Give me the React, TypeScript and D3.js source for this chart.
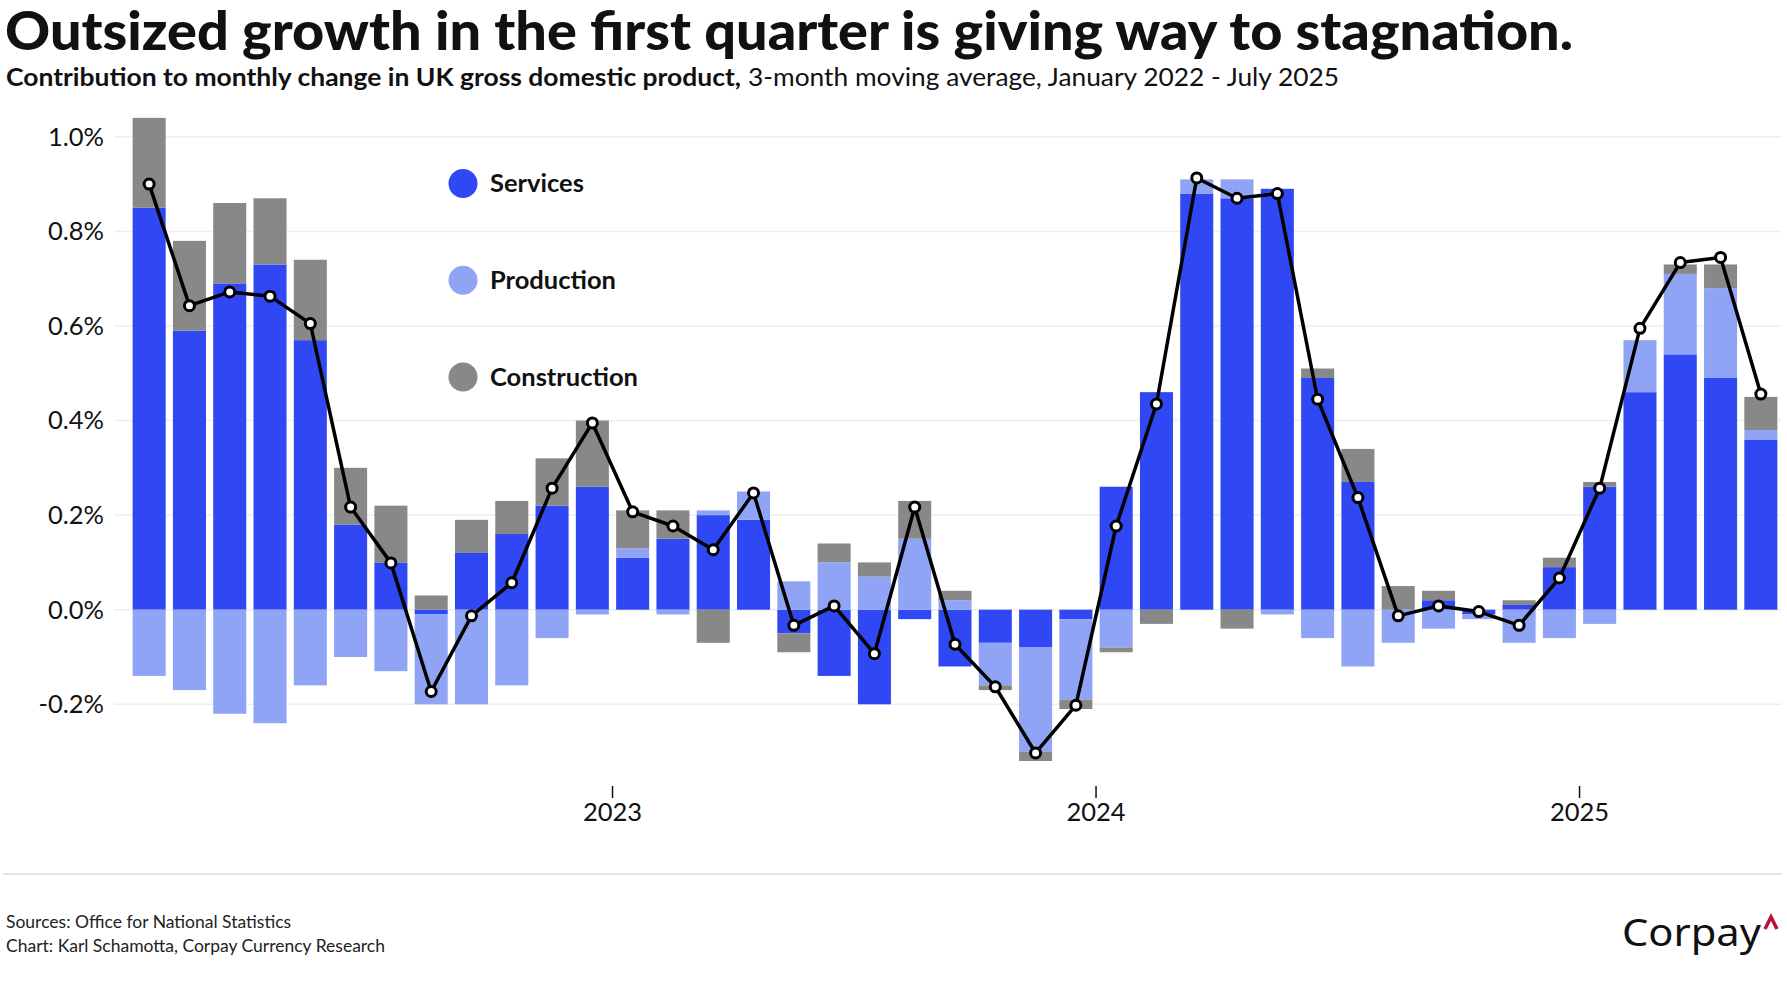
import * as d3 from 'd3';

const months = [
  '2022-01', '2022-02', '2022-03', '2022-04', '2022-05', '2022-06', '2022-07', '2022-08', '2022-09', '2022-10', '2022-11', '2022-12',
  '2023-01', '2023-02', '2023-03', '2023-04', '2023-05', '2023-06', '2023-07', '2023-08', '2023-09', '2023-10', '2023-11', '2023-12',
  '2024-01', '2024-02', '2024-03', '2024-04', '2024-05', '2024-06', '2024-07', '2024-08', '2024-09', '2024-10', '2024-11', '2024-12',
  '2025-01', '2025-02', '2025-03', '2025-04', '2025-05',
];

// contributions, percentage points
const services = [
  0.85, 0.59, 0.69, 0.73, 0.57, 0.18, 0.10, -0.01, 0.12, 0.16, 0.22, 0.26,
  0.11, 0.15, 0.20, 0.19, -0.05, -0.14, -0.20, -0.02, -0.12, -0.07, -0.08, -0.02,
  0.26, 0.46, 0.88, 0.87, 0.89, 0.49, 0.27, 0.00, 0.02, -0.01, 0.01, 0.09,
  0.26, 0.46, 0.54, 0.49, 0.36,
];
const production = [
  -0.14, -0.17, -0.22, -0.24, -0.16, -0.10, -0.13, -0.19, -0.20, -0.16, -0.06, -0.01,
  0.02, -0.01, 0.01, 0.06, 0.06, 0.10, 0.07, 0.15, 0.02, -0.09, -0.22, -0.17,
  -0.08, 0.00, 0.03, 0.04, -0.01, -0.06, -0.12, -0.07, -0.04, -0.01, -0.07, -0.06,
  -0.03, 0.11, 0.17, 0.19, 0.02,
];
const construction = [
  0.19, 0.19, 0.17, 0.14, 0.17, 0.12, 0.12, 0.03, 0.07, 0.07, 0.10, 0.14,
  0.08, 0.06, -0.07, 0.00, -0.04, 0.04, 0.03, 0.08, 0.02, -0.01, -0.02, -0.02,
  -0.01, -0.03, 0.00, -0.04, 0.00, 0.02, 0.07, 0.05, 0.02, 0.00, 0.01, 0.02,
  0.01, 0.00, 0.02, 0.05, 0.07,
];
const gdp = [
  0.90, 0.643, 0.672, 0.663, 0.605, 0.217, 0.099, -0.173, -0.013, 0.057, 0.257, 0.395,
  0.207, 0.177, 0.127, 0.247, -0.033, 0.008, -0.093, 0.217, -0.073, -0.163, -0.303, -0.202,
  0.177, 0.435, 0.913, 0.87, 0.88, 0.445, 0.237, -0.013, 0.008, -0.004, -0.033, 0.067,
  0.257, 0.595, 0.734, 0.745, 0.456,
];

const yTicks = [-0.2, 0, 0.2, 0.4, 0.6, 0.8, 1.0];
const yearTicks = ['2023-01', '2024-01', '2025-01'];
const seriesNames = ['Services', 'Production', 'Construction'];
const seriesColors = ['#3048F3', '#8FA4F5', '#888888'];

const FONT = 'Lato, "Noto Sans", sans-serif';

export default function App() {
  const W = 1787;
  const H = 1000;

  const x = d3.scaleBand().domain(months).range([129, 1781]).paddingInner(0.18).paddingOuter(0.09);
  const y = d3.scaleLinear().domain([0, 1]).range([609.7, 136.8]);

  const rows = months.map((m, i) => ({
    month: m,
    Services: services[i],
    Production: production[i],
    Construction: construction[i],
  }));
  const stacked = d3
    .stack<any>()
    .keys(seriesNames)
    .offset(d3.stackOffsetDiverging)(rows);

  const half = x.bandwidth() / 2;
  const gap = (x.step() - x.bandwidth()) / 2;
  const fmt = (t: number) => t.toFixed(1) + '%';

  const line = d3
    .line<number>()
    .x((_, i) => (x(months[i]) ?? 0) + half)
    .y((d) => y(d));

  return (
    <div style={{ position: 'absolute', left: 0, top: 0 }}>
      <svg width={W} height={H} style={{ display: 'block', background: '#fff' }} fontFamily={FONT}>
        {/* Title */}
        <text x={5} y={50} fontSize={53} fontWeight={900} fill="#111" textLength={1568} lengthAdjust="spacingAndGlyphs">
          Outsized growth in the first quarter is giving way to stagnation.
        </text>
        <text x={6} y={86} fontSize={24.5} fontWeight={700} fill="#111" textLength={735} lengthAdjust="spacingAndGlyphs">
          Contribution to monthly change in UK gross domestic product,
        </text>
        <text x={748} y={86} fontSize={24.5} fontWeight={400} fill="#111" textLength={591} lengthAdjust="spacingAndGlyphs">
          3-month moving average, January 2022 - July 2025
        </text>

        {/* Grid */}
        {yTicks.map((t) => (
          <g key={t}>
            <line x1={114} x2={1781} y1={y(t)} y2={y(t)} stroke="#eeeeee" strokeWidth={1.5} />
            <text x={104} y={y(t)} dy="0.35em" textAnchor="end" fontSize={25.5} fill="#111">
              {fmt(t)}
            </text>
          </g>
        ))}

        {/* Bars */}
        {stacked.map((s, si) => (
          <g key={s.key} fill={seriesColors[si]}>
            {s.map((d, i) => {
              const top = y(Math.max(d[0], d[1]));
              const bot = y(Math.min(d[0], d[1]));
              if (bot - top < 0.1) return null;
              return (
                <rect key={i} x={x(months[i])} y={top} width={x.bandwidth()} height={bot - top} />
              );
            })}
          </g>
        ))}

        {/* GDP line */}
        <path d={line(gdp) ?? ''} fill="none" stroke="#000" strokeWidth={3.5} strokeLinejoin="round" />
        {gdp.map((v, i) => (
          <circle key={i} cx={(x(months[i]) ?? 0) + half} cy={y(v)} r={5} fill="#fff" stroke="#000" strokeWidth={3} />
        ))}

        {/* X axis ticks */}
        {yearTicks.map((m) => {
          const tx = (x(m) ?? 0) - gap;
          return (
            <g key={m}>
              <line x1={tx} x2={tx} y1={786} y2={798} stroke="#111" strokeWidth={1.5} />
              <text x={tx} y={821} textAnchor="middle" fontSize={25.5} fill="#111">
                {m.slice(0, 4)}
              </text>
            </g>
          );
        })}

        {/* Legend */}
        {seriesNames.map((name, i) => (
          <g key={name} transform={`translate(463,${183.5 + i * 96.8})`}>
            <circle r={14.5} fill={seriesColors[i]} />
            <text x={27} dy="0.35em" fontSize={25.5} fontWeight={700} fill="#111">
              {name}
            </text>
          </g>
        ))}

        {/* Footer */}
        <line x1={3} x2={1782} y1={874} y2={874} stroke="#dddddd" strokeWidth={1.5} />
        <text x={6} y={928} fontSize={17.5} fill="#222">
          Sources: Office for National Statistics
        </text>
        <text x={6} y={952} fontSize={17.5} fill="#222">
          Chart: Karl Schamotta, Corpay Currency Research
        </text>
        <text x={1622} y={946} fontSize={39} fontWeight={400} fill="#111" fontFamily='"Noto Sans", sans-serif' textLength={139} lengthAdjust="spacingAndGlyphs">
          Corpay
        </text>
        <path d="M1765,929 L1771,917 L1777,929" fill="none" stroke="#B5123E" strokeWidth={3.5} />
      </svg>
    </div>
  );
}
